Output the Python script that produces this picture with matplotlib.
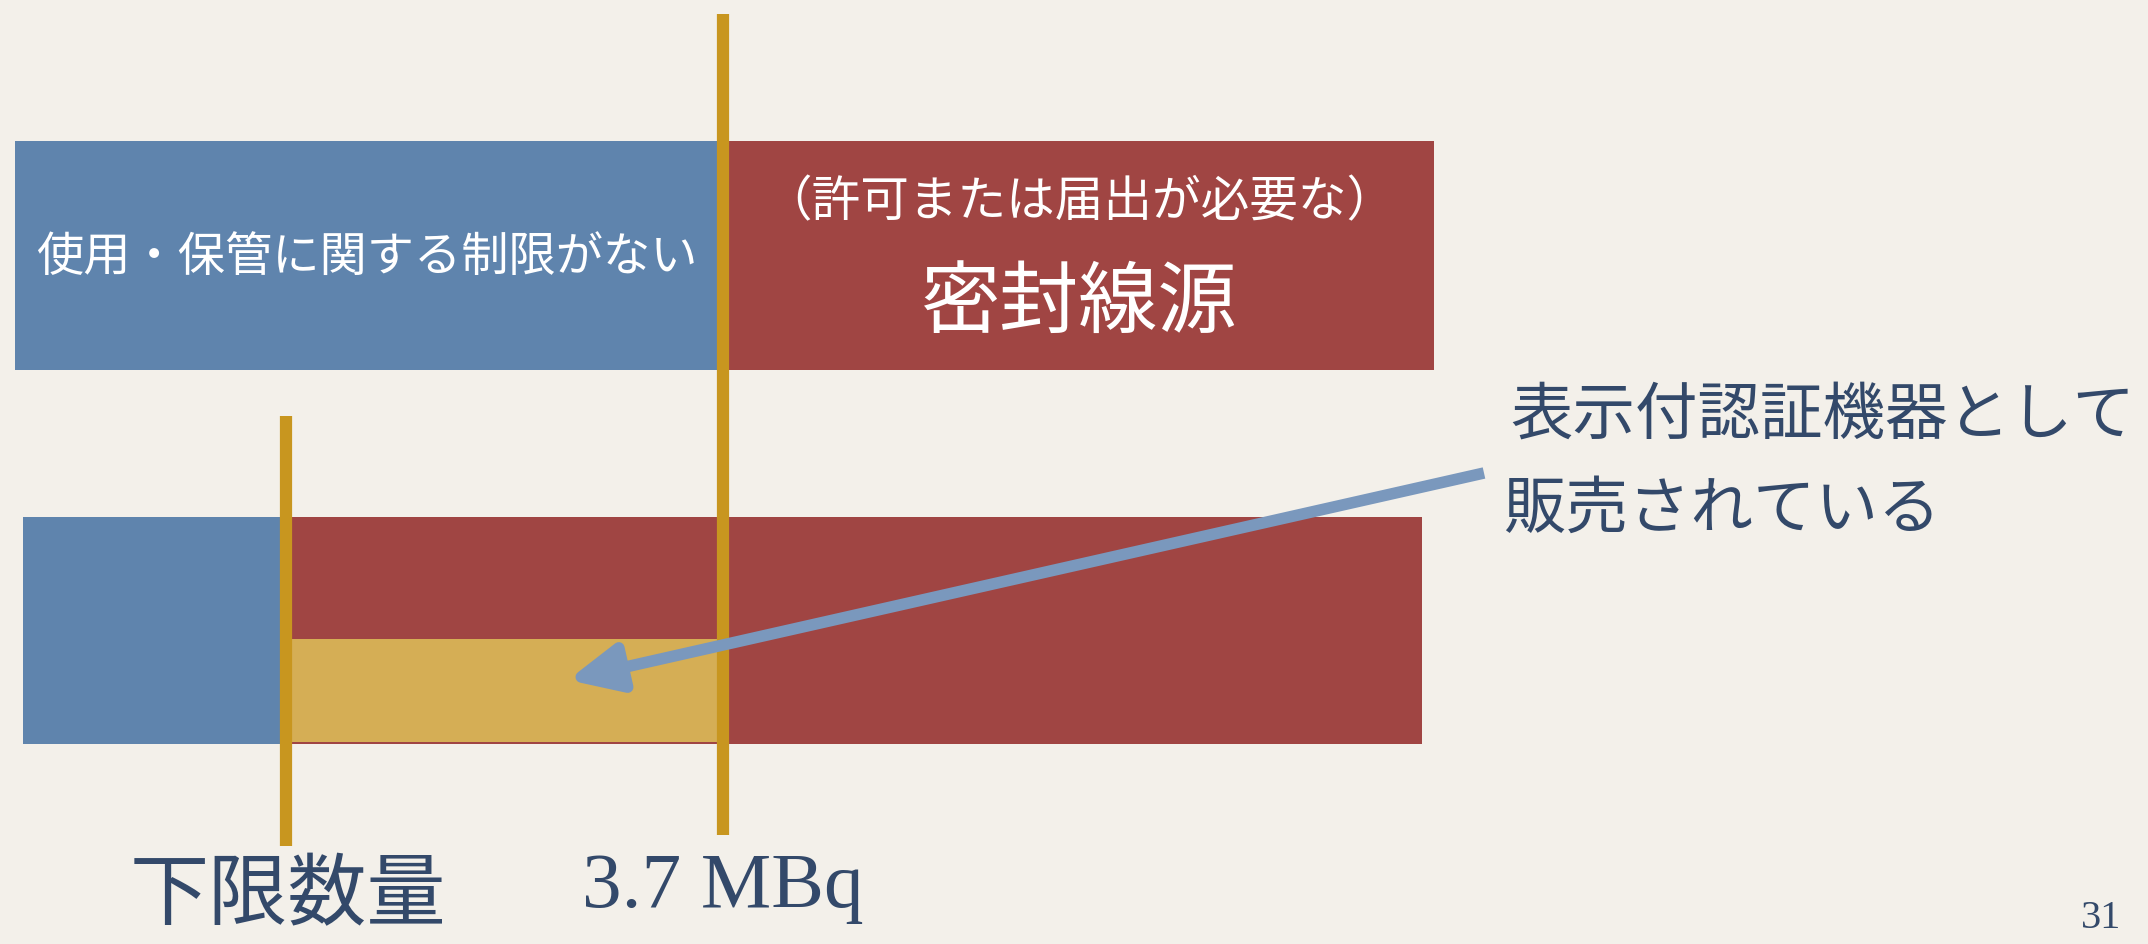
"""
密封線源の区分を示すスライド図 (下限数量 / 3.7 MBq)
"""
import matplotlib
matplotlib.use('Agg')
import matplotlib.pyplot as plt
from matplotlib.patches import FancyArrowPatch

plt.rcParams['font.family'] = ['Noto Sans CJK JP', 'DejaVu Sans']

# 色
BG = '#f3f0ea'
BLUE = '#5f84ad'
RED = '#a04543'
GOLD = '#c8961f'
YELLOW = '#d5ae55'
ARROW = '#7a98bd'
NAVY = '#33496a'

# 上段の帯 (左端, 幅) -- 画面座標 (px)
top_left = [15, 726]
top_width = [705, 708]
top_colors = [BLUE, RED]
top_y, top_h = 256.5, 229

# 下段の帯
bottom_left = [23, 286]
bottom_width = [263, 1136]
bottom_colors = [BLUE, RED]
bottom_y, bottom_h = 631.5, 227

# 表示付認証機器の範囲
cert_left, cert_width = 292, 425
cert_y, cert_h = 691.5, 103

# 境界線 (3.7 MBq, 下限数量)
line_x = [723, 286]
line_top = [15, 417]
line_bottom = [836, 847]

# 矢印
arrow_tail = (1484, 474)
arrow_tip = (568, 681)

fig = plt.figure(figsize=(21.48, 9.45), dpi=100)
fig.patch.set_facecolor(BG)
ax = fig.add_axes([0, 0, 1, 1])
ax.set_xlim(0, 2148)
ax.set_ylim(945, 0)
ax.axis('off')

ax.barh(top_y, top_width, height=top_h, left=top_left, color=top_colors, zorder=1)
ax.barh(bottom_y, bottom_width, height=bottom_h, left=bottom_left, color=bottom_colors, zorder=1)
ax.barh(cert_y, cert_width, height=cert_h, left=cert_left, color=YELLOW, zorder=2)

ax.vlines(line_x, line_top, line_bottom, color=GOLD, lw=8.8, zorder=3)

arrow = FancyArrowPatch(arrow_tail, arrow_tip,
                        arrowstyle='-|>,head_length=31,head_width=14.5',
                        mutation_scale=1, lw=8.3, color=ARROW,
                        capstyle='butt', shrinkA=0, shrinkB=0, zorder=4)
ax.add_patch(arrow)

# 帯の中の文字
ax.text(367, 258, '使用・保管に関する制限がない', color='white', fontsize=34,
        ha='center', va='center', zorder=5)
ax.text(1079, 203, '（許可または届出が必要な）', color='white', fontsize=35,
        ha='center', va='center', zorder=5)
ax.text(1079, 304, '密封線源', color='white', fontsize=57,
        ha='center', va='center', zorder=5)

# 注記
ax.text(1510, 416, '表示付認証機器として', color=NAVY, fontsize=45,
        ha='left', va='center')
ax.text(1503, 510, '販売されている', color=NAVY, fontsize=45,
        ha='left', va='center')

# 下の目盛りラベル
ax.text(288, 897, '下限数量', color=NAVY, fontsize=57, ha='center', va='center')
ax.text(582, 907, '3.7 MBq', color=NAVY, fontsize=57, ha='left', va='baseline',
        family=['Liberation Serif'])
ax.text(2101, 928, '31', color=NAVY, fontsize=29, ha='center', va='baseline',
        family=['Liberation Serif'])

fig.savefig('out.png', dpi=100, facecolor=BG)
